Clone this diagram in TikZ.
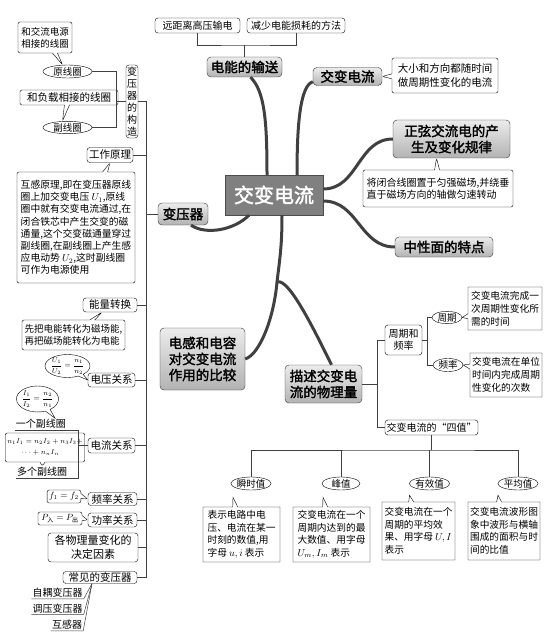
\documentclass[tikz,border=0pt]{standalone}
\usepackage{amsmath}
\usepackage{fontspec}
\setmainfont{Noto Sans CJK SC}
\newfontfamily\hfont[FakeBold=2]{Noto Sans CJK SC}
\usetikzlibrary{shapes.geometric, shapes.callouts, positioning}
\newcommand{\fs}[2]{\fontsize{#1}{#2}\selectfont}

\begin{document}
\begin{tikzpicture}[x=1pt, y=-1pt,
    hdr/.style={rectangle, rounded corners=4pt, draw=gray!40!black, top color=gray!15, bottom color=gray!60,
                font=\hfont\fs{13.5}{16}, align=center, inner sep=1pt},
    core/.style={rectangle, draw=black!70, fill=black!50, text=white, font=\hfont\fs{20}{24},
                 minimum width=98pt, minimum height=40pt},
    item/.style={rectangle, rounded corners=3pt, draw, fill=white, font=\fs{10}{12.5}, align=center, inner sep=1pt},
    oval/.style={ellipse, draw, fill=white, font=\fs{9.5}{11}, inner sep=0pt},
    note/.style={rectangle callout, draw, rounded corners=2pt, fill=white, font=\fs{10}{12.5},
                 align=left, inner sep=2pt, callout pointer width=5pt},
    bubble/.style={ellipse callout, draw, fill=white, font=\fs{7}{9}, inner sep=-1pt, callout pointer width=5pt},
    tag/.style={font=\fs{10}{12}, inner sep=1pt},
    branch/.style={line width=3pt, draw=gray!50!black},
    link/.style={draw=black!75, line width=0.5pt}
]
\useasboundingbox (0,0) rectangle (552,636);

% top: transmission
\node[item, minimum width=85pt, minimum height=15pt] (t1) at (197.5,25.5) {远距离高压输电};
\node[item, minimum width=98pt, minimum height=15pt] (t2) at (296,25.5) {减少电能损耗的方法};
\node[hdr, minimum width=75pt, minimum height=20pt] (shuSong) at (244.5,67) {电能的输送};
\coordinate (tsJoin) at (244.5,45);
\draw[link] (t1.south) |- (tsJoin) -| (t2.south);
\draw[link] (tsJoin) -- (shuSong.north);

% centre and main headers
\node[core] (ctr) at (274,195) {交变电流};
\node[hdr, minimum width=69pt, minimum height=18pt] (jiaoBian) at (347.5,76.5) {交变电流};
\node[hdr, minimum width=117pt, minimum height=38pt] (zhengXian) at (451.5,139) {正弦交流电的产\\生及变化规律};
\node[hdr, minimum width=98pt, minimum height=20pt] (zhongXing) at (444,247) {中性面的特点};
\node[hdr, minimum width=50pt, minimum height=22pt] (bianYa) at (183,214) {变压器};
\node[hdr, minimum width=85pt, minimum height=62pt] (dianGan) at (202.5,359) {电感和电容\\对交变电流\\作用的比较};
\node[hdr, minimum width=77pt, minimum height=38pt] (miaoShu) at (323.5,384) {描述交变电\\流的物理量};
\coordinate (fork) at (277,282);

\draw[branch] ([xshift=-7pt]ctr.north) .. controls +(0,-55) and +(14,14) .. ([xshift=6pt]shuSong.south);
\draw[branch] ([xshift=23pt]ctr.north) .. controls +(0,-55) and +(-12,4) .. ([yshift=4pt]jiaoBian.south west);
\draw[branch] ([yshift=6pt]ctr.east) .. controls +(35,0) and +(-35,0) .. (zhengXian.west);
\draw[branch] ([yshift=-6pt]ctr.east) .. controls +(35,0) and +(-35,0) .. (zhongXing.west);
\draw[branch] ([xshift=-25pt]ctr.south) .. controls +(-15,15) and +(15,10) .. ([xshift=8pt]bianYa.south);
\draw[branch] ([xshift=8pt]ctr.south) .. controls +(0,30) and +(3,-25) .. (fork);
\draw[branch] (fork) .. controls +(-3,35) and +(15,-5) .. (dianGan.east);
\draw[branch] (fork) .. controls +(12,-5) and +(-15,-30) .. ([xshift=8pt]miaoShu.north);

% right notes
\node[note, minimum width=106pt, minimum height=35pt, font=\fs{10.5}{14},
      callout absolute pointer={(jiaoBian.east)}] (jbNote) at (445,75.5) {大小和方向都随时间\\做周期性变化的电流};
\node[note, minimum width=150pt, minimum height=37pt,
      callout absolute pointer={([xshift=-15pt]zhengXian.south)}] (zxNote) at (438,188.5)
      {将闭合线圈置于匀强磁场,并绕垂\\直于磁场方向的轴做匀速转动};

% transformer: structure
\node[item, minimum width=12pt, minimum height=73pt, inner sep=0.5pt, font=\fs{10}{12}] (gouZao) at (132,101.5)
      {变\\压\\器\\的\\构\\造};
\node[oval, minimum width=49pt, minimum height=13pt] (yuan) at (67.5,71.5) {原线圈};
\node[oval, minimum width=49pt, minimum height=12pt] (fu) at (67.5,127.5) {副线圈};
\node[note, minimum width=54pt, minimum height=31pt, font=\fs{9.5}{12},
      callout absolute pointer={([xshift=-5pt]yuan.north)}] (yuanNote) at (45,37.5) {和交流电源\\相接的线圈};
\node[note, minimum width=98pt, minimum height=15pt, font=\fs{10.5}{12},
      callout absolute pointer={([xshift=-5pt]fu.north)}] (fuNote) at (69,97.5) {和负载相接的线圈};
\coordinate (csJoin) at (116,101.5);
\draw[link] (gouZao.west) -- (csJoin);
\draw[link] (yuan.east) -| (csJoin);
\draw[link] (fu.east) -| (csJoin);

% transformer: principle and relations
\node[item, minimum width=46pt, minimum height=15pt, font=\fs{10.5}{12}] (gongZuo) at (110,155) {工作原理};
\node[note, minimum width=118pt, minimum height=111pt, font=\fs{9.8}{12.2},
      callout absolute pointer={(gongZuo.south)}] (gzNote) at (76,227.5)
      {互感原理,即在变压器原线\\圈上加交变电压 $U_1$,原线\\圈中就有交变电流通过,在\\闭合铁芯中产生交变的磁\\
       通量,这个交变磁通量穿过\\副线圈,在副线圈上产生感\\应电动势 $U_2$,这时副线圈\\可作为电源使用};
\node[item, minimum width=54pt, minimum height=14pt, font=\fs{10.5}{12}] (nengLiang) at (110,305) {能量转换};
\node[note, minimum width=103pt, minimum height=30pt, font=\fs{9.5}{12.5},
      callout absolute pointer={([xshift=-8pt]nengLiang.south)}] (nlNote) at (73.5,335)
      {先把电能转化为磁场能,\\再把磁场能转化为电能};
\node[item, minimum width=47pt, minimum height=14pt, font=\fs{10.5}{12}] (dianYa) at (111.5,380) {电压关系};
\node[bubble, minimum width=45pt, minimum height=23pt,
      callout absolute pointer={(dianYa.west)}] (dyNote) at (67.5,366) {$\dfrac{U_1}{U_2}=\dfrac{n_1}{n_2}$};
\node[item, minimum width=47pt, minimum height=15pt, font=\fs{10.5}{12}] (dianLiu) at (111.5,445.5) {电流关系};
\node[tag] (yiGe) at (41,424) {一个副线圈};
\node[tag] (duoGe) at (42,472) {多个副线圈};
\node[bubble, minimum width=41pt, minimum height=26pt,
      callout absolute pointer={([xshift=14pt]yiGe.north)}] (dlNote) at (37.5,399) {$\dfrac{I_1}{I_2}=\dfrac{n_2}{n_1}$};
\node[note, minimum width=56pt, minimum height=29pt, font=\fs{7.5}{11},
      callout absolute pointer={(duoGe.north)}] (dgNote) at (45,447.5)
      {$n_1I_1=n_2I_2+n_3I_3+$\\\hspace*{14pt}$\cdots+n_nI_n$};
\coordinate (dlJoin) at (78,445.5);
\draw[link] (dianLiu.west) -- (dlJoin);
\draw[link] (yiGe.south west) -- (yiGe.south east) -| (dlJoin);
\draw[link] (duoGe.south west) -- (duoGe.south east) -| (dlJoin);

\node[item, minimum width=49pt, minimum height=13pt, font=\fs{10.5}{12}] (pinLv) at (112.5,499) {频率关系};
\node[note, minimum width=32pt, minimum height=13pt, font=\fs{9}{11},
      callout absolute pointer={(pinLv.west)}] (plNote) at (64,496.5) {$f_1=f_2$};
\node[item, minimum width=49pt, minimum height=14pt, font=\fs{10.5}{12}] (gongLv) at (112.5,520) {功率关系};
\node[note, minimum width=44pt, minimum height=13pt, font=\fs{9}{11},
      callout absolute pointer={(gongLv.west)}] (glNote) at (60,518.5) {$P_{\text{入}}=P_{\text{出}}$};
\node[item, minimum width=90pt, minimum height=29pt, font=\fs{11}{13.5}] (jueDing) at (93,547.5) {各物理量变化的\\决定因素};
\node[item, minimum width=74pt, minimum height=12pt, font=\fs{10.5}{12}] (changJian) at (100,577.5) {常见的变压器};
\node[tag] (ziOu) at (57.5,593) {自耦变压器};
\node[tag] (tiaoYa) at (57.5,608.5) {调压变压器};
\node[tag] (huGan) at (67,625) {互感器};
\foreach \n in {ziOu, tiaoYa, huGan}
  \draw[link] (\n.south west) -- (\n.south east) -- ([xshift=-8pt]changJian.south);

% transformer spine
\coordinate (spTop) at (146,101.5);
\coordinate (spBot) at (146,577.5);
\draw[link] (gouZao.east) -- (spTop) -- (spBot) -- (changJian.east);
\foreach \n in {gongZuo, nengLiang, dianYa, dianLiu, pinLv, gongLv, jueDing}
  \draw[link] (\n.east) -- (\n.east -| spTop);
\draw[link] (bianYa.west) -- (bianYa.west -| spTop);

% physical quantities: period and frequency
\node[item, minimum width=37pt, minimum height=30pt] (zhouQiPL) at (403.5,340) {周期和\\频率};
\node[oval, minimum width=30pt, minimum height=11pt] (zhouQi) at (447,317.5) {周期};
\node[oval, minimum width=30pt, minimum height=13pt] (pinLvE) at (448,365) {频率};
\node[note, sharp corners, minimum width=74pt, minimum height=43pt, font=\fs{9.7}{13},
      callout absolute pointer={(zhouQi.east)}] (zqNote) at (505,308.5) {交变电流完成一\\次周期性变化所\\需的时间};
\node[note, sharp corners, minimum width=72pt, minimum height=44pt, font=\fs{9.7}{13},
      callout absolute pointer={(pinLvE.east)}] (pvNote) at (506,375) {交变电流在单位\\时间内完成周期\\性变化的次数};
\node[item, minimum width=93pt, minimum height=15pt] (siZhi) at (431.5,427.5) {交变电流的“四值”};
\coordinate (msJoin) at (377,384);
\draw[link] (miaoShu.east) -- (msJoin);
\draw[link] (zhouQiPL.west) -| (msJoin);
\draw[link] (siZhi.west) -| (msJoin);
\coordinate (zpJoin) at (427,340);
\draw[link] (zhouQiPL.east) -- (zpJoin);
\draw[link] (zhouQi.west) -| (zpJoin);
\draw[link] (pinLvE.west) -| (zpJoin);

% four values
\node[oval, minimum width=38pt, minimum height=13pt] (shunShi) at (251,483.5) {瞬时值};
\node[oval, minimum width=38pt, minimum height=13pt] (fengZhi) at (341,483.5) {峰值};
\node[oval, minimum width=39pt, minimum height=13pt] (youXiao) at (429.5,483.5) {有效值};
\node[oval, minimum width=38pt, minimum height=13pt] (pingJun) at (518,483.5) {平均值};
\coordinate (szJoin) at (431.5,450);
\draw[link] (siZhi.south) -- (szJoin);
\draw[link] (shunShi.north) |- (szJoin) -| (pingJun.north);
\foreach \n in {fengZhi, youXiao}
  \draw[link] (\n.north) -- (\n.north |- szJoin);

\node[note, sharp corners, minimum width=77pt, minimum height=55pt, font=\fs{9.7}{12.5},
      callout absolute pointer={([xshift=-18pt,yshift=-7pt]shunShi.south)}] (ssNote) at (241.5,534.5)
      {表示电路中电\\压、电流在某一\\时刻的数值,用\\字母 $u,i$ 表示};
\node[note, sharp corners, minimum width=77pt, minimum height=55pt, font=\fs{9.7}{12.5},
      callout absolute pointer={([xshift=-18pt,yshift=-7pt]fengZhi.south)}] (fzNote) at (331.5,534.5)
      {交变电流在一个\\周期内达到的最\\大数值、用字母\\$U_m,I_m$ 表示};
\node[note, sharp corners, minimum width=73pt, minimum height=58pt, font=\fs{9.7}{12.5},
      callout absolute pointer={([xshift=-20pt,yshift=-5pt]youXiao.south)}] (yxNote) at (418.5,531)
      {交变电流在一个\\周期的平均效\\果、用字母 $U,I$\\表示};
\node[note, sharp corners, minimum width=72pt, minimum height=58pt, font=\fs{9.7}{12.5},
      callout absolute pointer={([xshift=-20pt,yshift=-5pt]pingJun.south)}] (pjNote) at (504,531)
      {交变电流波形图\\象中波形与横轴\\围成的面积与时\\间的比值};

\end{tikzpicture}
\end{document}
